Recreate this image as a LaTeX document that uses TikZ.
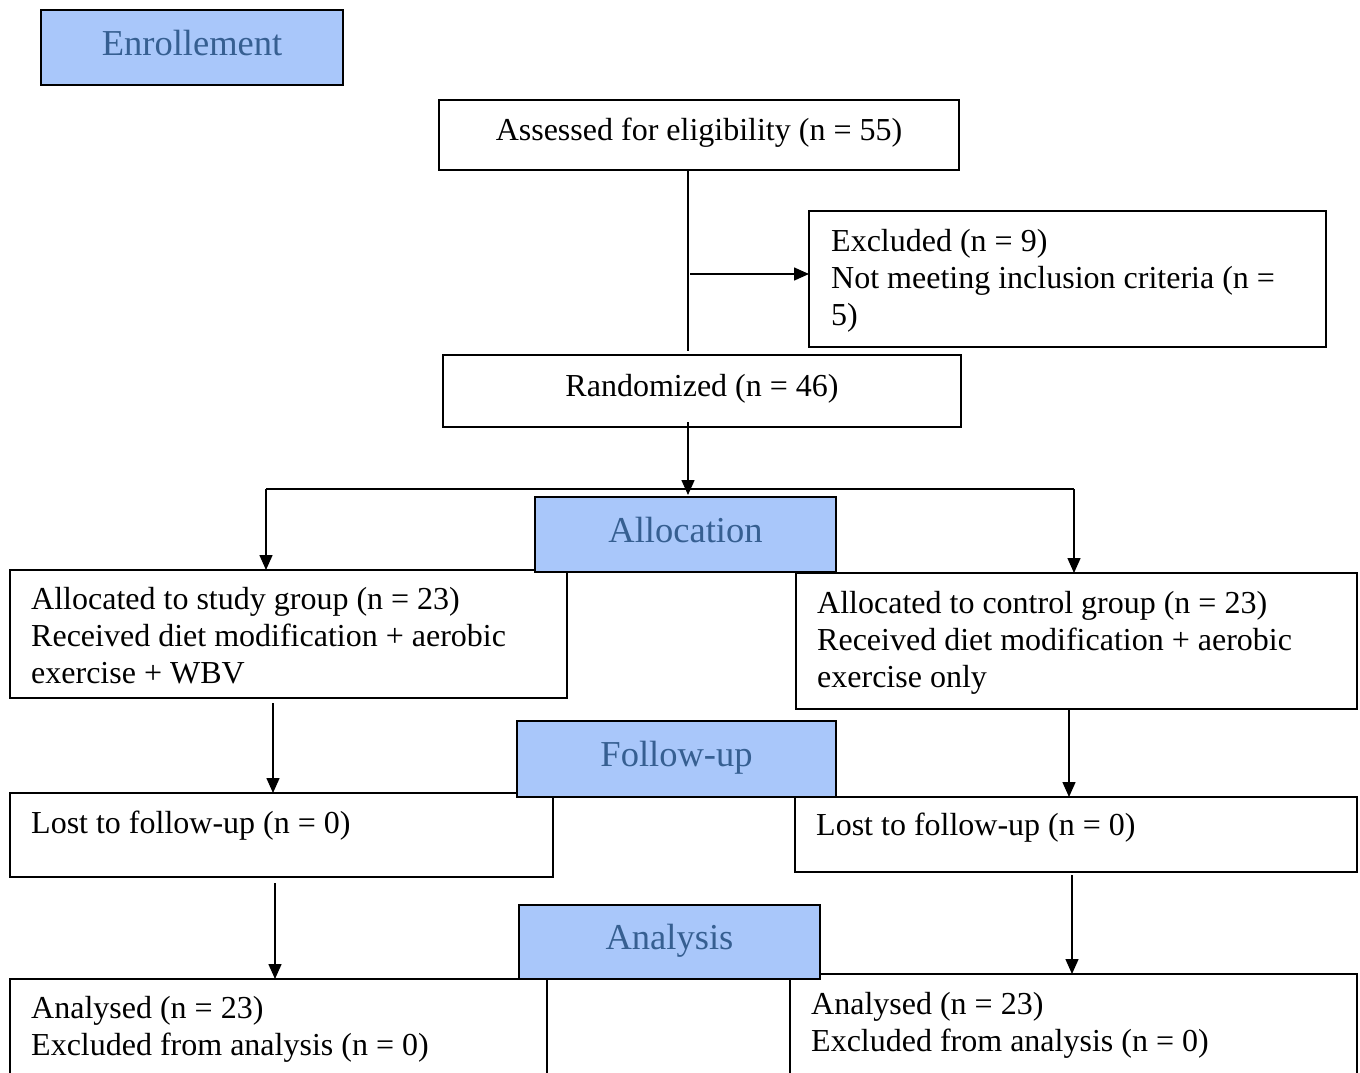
\documentclass[tikz,border=0pt]{standalone}
\usepackage{fontspec}
\setmainfont{Liberation Serif}
\usetikzlibrary{arrows.meta,calc}
\definecolor{lblfill}{RGB}{169,199,250}
\definecolor{lbltext}{RGB}{54,95,145}
\begin{document}
\begin{tikzpicture}[x=1pt,y=-1pt,
  wbox/.style={draw,line width=2pt,fill=white,anchor=north west,inner sep=0pt,outer sep=0pt},
  lbl/.style={draw,line width=2.6pt,fill=lblfill,text=lbltext,anchor=north west,inner sep=0pt,outer sep=0pt,
    text height=25pt,text depth=10pt,font=\fontsize{36.5}{44}\selectfont},
  txt/.style={anchor=base west,inner sep=0pt,align=left,font=\fontsize{32}{37}\selectfont},
  ctxt/.style={anchor=base,inner sep=0pt,font=\fontsize{32}{37}\selectfont},
  arr/.style={line width=1.5pt,-{Triangle[length=15pt,width=13pt]}},
  ln/.style={line width=1.5pt}]
\useasboundingbox (0,0) rectangle (1360,1072);
\clip (0,0) rectangle (1360,1072);
\fill[white] (0,0) rectangle (1360,1072);

% white boxes
\node[wbox,minimum width=520pt,minimum height=70pt] (assess) at (439,100) {};
\node[ctxt] (assesst) at (699,140) {Assessed for eligibility (n = 55)};
\node[wbox,minimum width=517pt,minimum height=136pt] (excl) at (809,211) {};
\node[txt,anchor=north west] (exclt) at (831,229) {Excluded (n = 9)\\Not meeting inclusion criteria (n =\\5)};
\node[wbox,minimum width=518pt,minimum height=72pt] (rand) at (443,355) {};
\node[ctxt] (randt) at (702,396) {Randomized (n = 46)};

\node[wbox,minimum width=557pt,minimum height=128pt] (study) at (10,570) {};
\node[txt,anchor=north west] (studyt) at (31,587) {Allocated to study group (n = 23)\\Received diet modification + aerobic\\exercise + WBV};
\node[wbox,minimum width=561pt,minimum height=136pt] (control) at (796,573) {};
\node[txt,anchor=north west] (controlt) at (817,591) {Allocated to control group (n = 23)\\Received diet modification + aerobic\\exercise only};

\node[wbox,minimum width=543pt,minimum height=84pt] (lostL) at (10,793) {};
\node[txt] (lostLt) at (31,833) {Lost to follow-up (n = 0)};
\node[wbox,minimum width=562pt,minimum height=75pt] (lostR) at (795,797) {};
\node[txt] (lostRt) at (816,835) {Lost to follow-up (n = 0)};

\node[wbox,minimum width=537pt,minimum height=130pt] (anaL) at (10,979) {};
\node[txt,anchor=north west] (anaLt) at (31,996) {Analysed (n = 23)\\Excluded from analysis (n = 0)};
\node[wbox,minimum width=567pt,minimum height=130pt] (anaR) at (790,974) {};
\node[txt,anchor=north west] (anaRt) at (811,992) {Analysed (n = 23)\\Excluded from analysis (n = 0)};

% connectors
\coordinate (trunk) at (688,0);
\draw[ln] (assess.south -| trunk) -- ($(rand.north -| trunk)+(0,-4)$);
\coordinate (exclbranch) at (690,274);
\draw[arr] (exclbranch) -- (exclbranch -| excl.west);
\draw[arr] ($(rand.south -| trunk)+(0,-5)$) -- ($(trunk |- 0,497)+(0,-2)$);
\coordinate (sL) at (266,489);
\coordinate (sR) at (1074,489);
\draw[ln] (sL) -- (sR);
\draw[arr] (sL) -- (sL |- study.north);
\draw[arr] (sR) -- (sR |- control.north);

\coordinate (cL1) at (273,703);
\draw[arr] (cL1) -- (cL1 |- lostL.north);
\coordinate (cR1) at (1069,709);
\draw[arr] (cR1) -- (cR1 |- lostR.north);
\coordinate (cL2) at (275,883);
\draw[arr] (cL2) -- (cL2 |- anaL.north);
\coordinate (cR2) at (1072,875);
\draw[arr] (cR2) -- (cR2 |- anaR.north);

% stage labels
\node[lbl,minimum width=302pt,minimum height=75pt] (enr) at (41,10) {Enrollement};
\node[lbl,minimum width=301pt,minimum height=75pt] (alloc) at (535,497) {Allocation};
\node[lbl,minimum width=319pt,minimum height=76pt] (fol) at (517,721) {Follow-up};
\node[lbl,minimum width=301pt,minimum height=74pt] (ana) at (519,905) {Analysis};
\end{tikzpicture}
\end{document}
